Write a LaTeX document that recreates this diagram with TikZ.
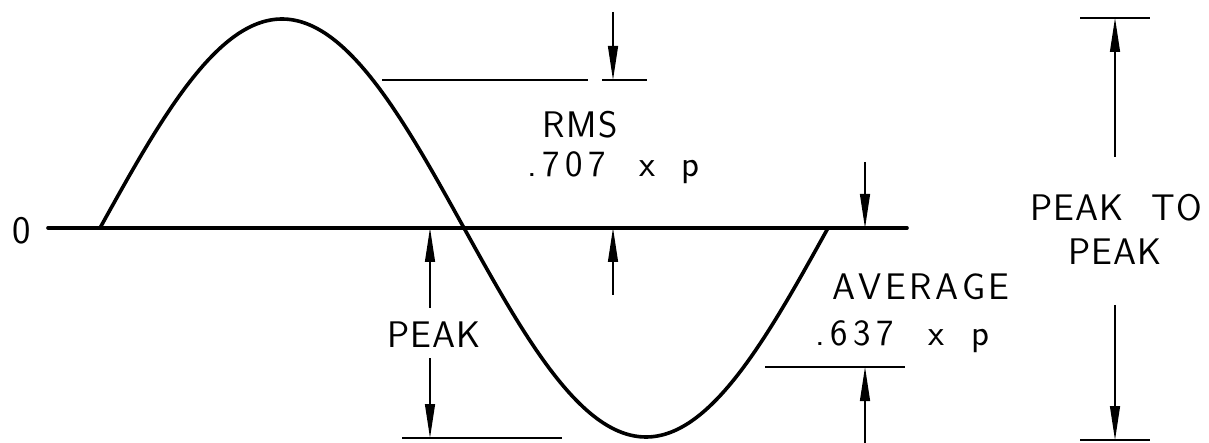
\documentclass[tikz,border=0pt]{standalone}
\usepackage{fontspec}
\usetikzlibrary{arrows.meta}
\begin{document}
\begin{tikzpicture}[x=1pt,y=-1pt,
  heavy/.style={line width=3.6pt,line cap=round,line join=round},
  dimline/.style={line width=1.3pt},
  dimarrow/.style={line width=1.3pt,-{Triangle[length=34pt,width=10pt]}},
  lbl/.style={font=\fontsize{37}{40}\selectfont\sffamily,inner sep=0pt,anchor=base west}]
\useasboundingbox (0,0) rectangle (1209,443);
% axis and wave
\node[font=\fontsize{39}{40}\selectfont\sffamily,inner sep=0pt] (zero) at (22,231) {0};
\coordinate (axL) at (48,228);
\coordinate (axR) at (907,228);
\draw[heavy] (axL) -- (axR);
\draw[heavy] plot[variable=\t,domain=0:360,samples=241,smooth] ({100+\t*2.02222},{228-209*sin(\t)});
% RMS
\coordinate (rmsA) at (382,80); \coordinate (rmsB) at (588,80);
\coordinate (rmsC) at (602,80); \coordinate (rmsD) at (647,80);
\draw[dimline] (rmsA) -- (rmsB);
\draw[dimline] (rmsC) -- (rmsD);
\coordinate (rmsTopStart) at (613,12); \coordinate (rmsTopEnd) at (613,80);
\coordinate (rmsBotStart) at (613,295); \coordinate (rmsBotEnd) at (613,228);
\draw[dimarrow] (rmsTopStart) -- (rmsTopEnd);
\draw[dimarrow] (rmsBotStart) -- (rmsBotEnd);
\node[lbl] (rms) at (542,138) {R\kern2pt M\kern2pt S};
\node[lbl] (rmsval) at (527,177) {.\kern5.7pt7\kern5.7pt0\kern5.7pt7\hspace{33pt}x\hspace{26pt}p};
% PEAK
\node[lbl] (peak) at (387,347) {P\kern1pt E\kern1pt A\kern1pt K};
\coordinate (pkUpStart) at (430,308); \coordinate (pkUpEnd) at (430,228);
\coordinate (pkDnStart) at (430,358); \coordinate (pkDnEnd) at (430,438);
\draw[dimarrow] (pkUpStart) -- (pkUpEnd);
\draw[dimarrow] (pkDnStart) -- (pkDnEnd);
\coordinate (pkLineL) at (402,438); \coordinate (pkLineR) at (562,438);
\draw[dimline] (pkLineL) -- (pkLineR);
% AVERAGE
\coordinate (avTopStart) at (865,162); \coordinate (avTopEnd) at (865,228);
\draw[dimarrow] (avTopStart) -- (avTopEnd);
\coordinate (avLineL) at (765,367); \coordinate (avLineR) at (905,367);
\draw[dimline] (avLineL) -- (avLineR);
\coordinate (avBotStart) at (865,445); \coordinate (avBotEnd) at (865,367);
\draw[dimarrow] (avBotStart) -- (avBotEnd);
\node[lbl] (avg) at (832,300) {A\kern3.5pt V\kern3.5pt E\kern3.5pt R\kern3.5pt A\kern3.5pt G\kern3.5pt E};
\node[lbl] (avgval) at (815,345) {.\kern5.7pt6\kern5.7pt3\kern5.7pt7\hspace{34pt}x\hspace{27pt}p};
% PEAK TO PEAK
\coordinate (ppTopL) at (1080,18); \coordinate (ppTopR) at (1150,18);
\draw[dimline] (ppTopL) -- (ppTopR);
\coordinate (ppUpStart) at (1115,157); \coordinate (ppUpEnd) at (1115,18);
\draw[dimarrow] (ppUpStart) -- (ppUpEnd);
\node[lbl] (pp1) at (1030,221) {P\kern1pt E\kern1pt A\kern1pt K\hspace{28pt}T\kern1pt O};
\node[lbl] (pp2) at (1068,265) {P\kern1pt E\kern1pt A\kern1pt K};
\coordinate (ppDnStart) at (1115,305); \coordinate (ppDnEnd) at (1115,440);
\draw[dimarrow] (ppDnStart) -- (ppDnEnd);
\coordinate (ppBotL) at (1080,440); \coordinate (ppBotR) at (1150,440);
\draw[dimline] (ppBotL) -- (ppBotR);
\end{tikzpicture}
\end{document}
